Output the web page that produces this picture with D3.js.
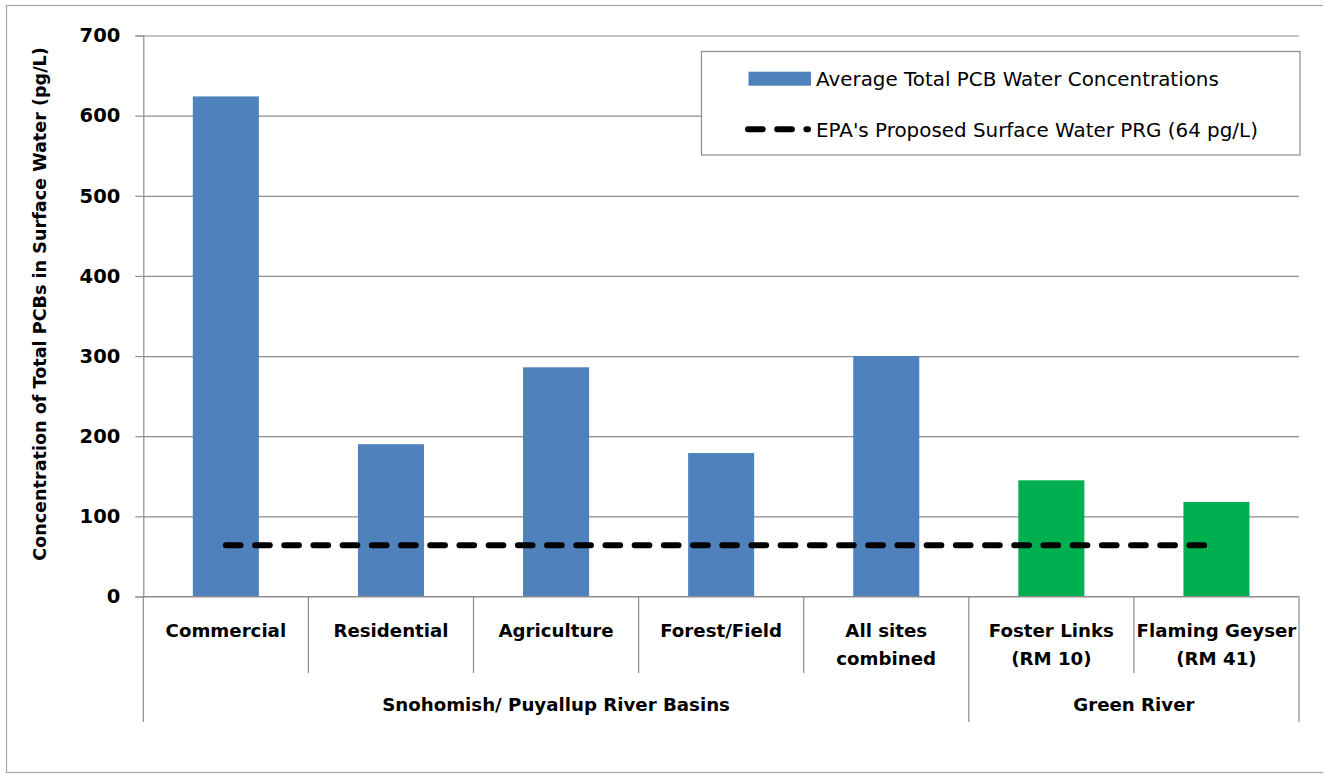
<!DOCTYPE html>
<html>
<head>
<meta charset="utf-8">
<script src="https://cdn.jsdelivr.net/npm/d3@7"></script>
<style>
  html, body { margin: 0; padding: 0; background: #fff; }
  svg { display: block; font-family: "DejaVu Sans", sans-serif; }
</style>
</head>
<body>
<svg id="chart" width="1323" height="774"></svg>
<script>
// Average total PCB concentrations in surface water by land use / site
const categories = ["Commercial", "Residential", "Agriculture", "Forest/Field",
                    "All sites\ncombined", "Foster Links\n(RM 10)", "Flaming Geyser\n(RM 41)"];
const pcbValues = [624, 190, 286, 179, 300, 145, 118];
const barGroup = [0, 0, 0, 0, 0, 1, 1];
const groupNames = ["Snohomish/ Puyallup River Basins", "Green River"];
const groupSizes = [5, 2];
const groupColors = ["#4F81BD", "#00B050"];
const yTicks = [0, 100, 200, 300, 400, 500, 600, 700];
const prgValue = 64;
const legendLabels = ["Average Total PCB Water Concentrations",
                      "EPA's Proposed Surface Water PRG (64 pg/L)"];

const svg = d3.select("#chart");
const plot = { left: 143.3, right: 1299, top: 35.5, bottom: 596.5 };
const gridColor = "#8c8c8c";
const dashStyle = { width: 6, dash: "14.7 14.5" };

// Outer chart frame
svg.append("rect")
  .attr("x", 6.5).attr("y", 5.5)
  .attr("width", 1330).attr("height", 767)
  .attr("fill", "#fff").attr("stroke", "#a6a6a6").attr("stroke-width", 1.2);

const x = d3.scaleBand().domain(categories).range([plot.left, plot.right]).padding(0);
const y = d3.scaleLinear().domain([0, 700]).range([plot.bottom, plot.top]);

// Horizontal gridlines
svg.append("g")
  .attr("transform", `translate(${plot.left},0)`)
  .call(d3.axisLeft(y).tickValues(yTicks).tickSize(-(plot.right - plot.left)).tickFormat(""))
  .call(g => g.select(".domain").remove())
  .call(g => g.selectAll("line").attr("stroke", gridColor).attr("stroke-width", 1.2));

// Value axis with ticks and labels
svg.append("g")
  .attr("transform", `translate(${plot.left},0)`)
  .call(d3.axisLeft(y).tickValues(yTicks).tickSize(8).tickPadding(15).tickFormat(d3.format("d")))
  .call(g => g.select(".domain").attr("stroke", gridColor).attr("stroke-width", 1.2))
  .call(g => g.selectAll(".tick line").attr("stroke", gridColor).attr("stroke-width", 1.2))
  .call(g => g.selectAll("text")
    .attr("font-family", "DejaVu Sans").attr("font-size", 19.5).attr("font-weight", "bold")
    .attr("fill", "#000"));

// Bars
const bw = x.bandwidth();
svg.append("g").selectAll("rect")
  .data(categories)
  .join("rect")
  .attr("x", d => x(d) + bw * 0.3)
  .attr("width", bw * 0.4)
  .attr("y", (d, i) => y(pcbValues[i]))
  .attr("height", (d, i) => y(0) - y(pcbValues[i]))
  .attr("fill", (d, i) => groupColors[barGroup[i]]);

// PRG reference line spanning the category centres
svg.append("line")
  .attr("x1", x(categories[0]) + bw / 2)
  .attr("x2", x(categories[categories.length - 1]) + bw / 2)
  .attr("y1", y(prgValue)).attr("y2", y(prgValue))
  .attr("stroke", "#000").attr("stroke-width", dashStyle.width)
  .attr("stroke-dasharray", dashStyle.dash).attr("stroke-linecap", "round");

// Category axis: baseline, separators and two-level labels
const catAxis = svg.append("g");
catAxis.append("line")
  .attr("x1", plot.left).attr("x2", plot.right)
  .attr("y1", y(0)).attr("y2", y(0))
  .attr("stroke", gridColor).attr("stroke-width", 1.2);

// group boundary positions (in category index)
const groupBounds = [0];
groupSizes.forEach(n => groupBounds.push(groupBounds[groupBounds.length - 1] + n));
const edgeX = i => (i < categories.length ? x(categories[i]) : plot.right);

d3.range(categories.length + 1).forEach(i => {
  const isGroupEdge = groupBounds.includes(i);
  catAxis.append("line")
    .attr("x1", edgeX(i)).attr("x2", edgeX(i))
    .attr("y1", y(0)).attr("y2", isGroupEdge ? 722 : 673)
    .attr("stroke", gridColor).attr("stroke-width", 1.2);
});

catAxis.selectAll("text.cat")
  .data(categories)
  .join("text")
  .attr("class", "cat")
  .attr("text-anchor", "middle")
  .attr("font-size", 18.2).attr("font-weight", "bold").attr("fill", "#000")
  .each(function (d) {
    const t = d3.select(this);
    d.split("\n").forEach((line, k) => {
      t.append("tspan")
        .attr("x", x(d) + bw / 2)
        .attr("y", 637 + k * 28)
        .text(line);
    });
  });

catAxis.selectAll("text.grp")
  .data(groupNames)
  .join("text")
  .attr("class", "grp")
  .attr("text-anchor", "middle")
  .attr("font-size", 18.2).attr("font-weight", "bold").attr("fill", "#000")
  .attr("x", (d, i) => (edgeX(groupBounds[i]) + edgeX(groupBounds[i + 1])) / 2)
  .attr("y", 711)
  .text(d => d);

// Value axis title
svg.append("text")
  .attr("transform", "translate(46,304) rotate(-90)")
  .attr("text-anchor", "middle")
  .attr("font-size", 17.6).attr("font-weight", "bold").attr("fill", "#000")
  .text("Concentration of Total PCBs in Surface Water (pg/L)");

// Legend
const legend = svg.append("g");
legend.append("rect")
  .attr("x", 701.5).attr("y", 51.5).attr("width", 598.5).attr("height", 103.5)
  .attr("fill", "#fff").attr("stroke", gridColor).attr("stroke-width", 1.2);
legend.append("rect")
  .attr("x", 748.5).attr("y", 71.7).attr("width", 62.5).attr("height", 14)
  .attr("fill", groupColors[0]);
legend.append("line")
  .attr("x1", 748).attr("x2", 808).attr("y1", 129.3).attr("y2", 129.3)
  .attr("stroke", "#000").attr("stroke-width", dashStyle.width)
  .attr("stroke-dasharray", dashStyle.dash).attr("stroke-linecap", "round");
legend.selectAll("text")
  .data(legendLabels)
  .join("text")
  .attr("x", 816)
  .attr("y", (d, i) => 85.5 + i * 51.5)
  .attr("font-size", 19.9).attr("fill", "#000")
  .text(d => d);
</script>
</body>
</html>
